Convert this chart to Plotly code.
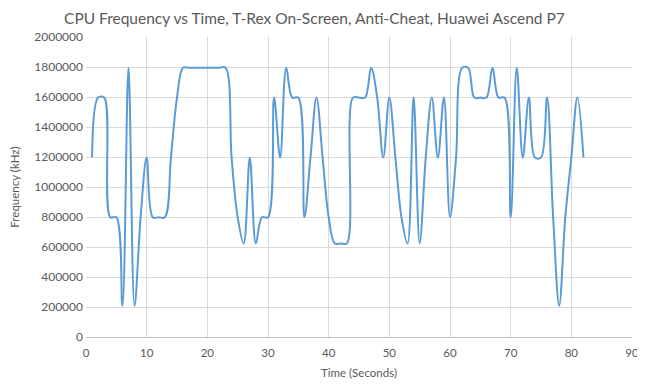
import plotly.graph_objects as go

time_s = list(range(1, 83))
freq_khz = [
    1196000, 1596000, 1596000, 798000, 798000, 208000, 1795000, 208000, 798000, 1196000,
    798000, 798000, 798000, 1196000, 1596000, 1795000, 1795000, 1795000, 1795000, 1795000,
    1795000, 1795000, 1795000, 1196000, 798000, 624000, 1196000, 624000, 798000, 798000,
    1596000, 1196000, 1795000, 1596000, 1596000, 798000, 1196000, 1596000, 1196000, 798000,
    624000, 624000, 624000, 1596000, 1596000, 1596000, 1795000, 1596000, 1196000, 1596000,
    1196000, 798000, 624000, 1596000, 624000, 1196000, 1596000, 1196000, 1596000, 798000,
    1196000, 1795000, 1795000, 1596000, 1596000, 1596000, 1795000, 1596000, 1596000, 798000,
    1795000, 1196000, 1596000, 1196000, 1196000, 1596000, 798000, 208000, 798000, 1196000,
    1596000, 1196000,
]

title_text = "CPU Frequency vs Time, T-Rex On-Screen, Anti-Cheat, Huawei Ascend P7"
x_title = "Time (Seconds)"
y_title = "Frequency (kHz)"

grey = "#595959"
grid = "#d9d9d9"

fig = go.Figure()
fig.add_trace(go.Scatter(
    x=time_s, y=freq_khz, mode="lines",
    line=dict(color="#5B9BD5", width=2, shape="spline", smoothing=1),
    showlegend=False, hoverinfo="x+y",
))

# page body has an 8px default margin, so the figure is sized to fit the window
fig.update_layout(
    width=637, height=380,
    margin=dict(l=78, r=13, t=29, b=51, autoexpand=False),
    paper_bgcolor="white", plot_bgcolor="white",
    font=dict(family="Lato, Open Sans, sans-serif", color=grey, size=11),
    title=dict(text=title_text, x=0.481, xanchor="center", y=0.972, yanchor="middle",
               font=dict(size=15.5, color=grey)),
)
fig.update_xaxes(
    range=[0, 90], dtick=10, tick0=0, showgrid=True, gridcolor=grid, gridwidth=1,
    zeroline=False, showline=True, linecolor="#bfbfbf", linewidth=1,
    ticks="", automargin=False, ticklabelstandoff=5,
    title=dict(text=x_title, standoff=11, font=dict(size=11.5, color=grey)),
    tickfont=dict(size=11.5, color=grey),
)
fig.update_yaxes(
    range=[0, 2000000], dtick=200000, tick0=0, tickformat="d", showgrid=True,
    gridcolor=grid, gridwidth=1, zeroline=False, showline=False, ticks="",
    automargin=False, ticklabelstandoff=2,
    title=dict(text=y_title, standoff=17, font=dict(size=11.5, color=grey)),
    tickfont=dict(size=12, color=grey),
)

fig.write_html("out.html")
